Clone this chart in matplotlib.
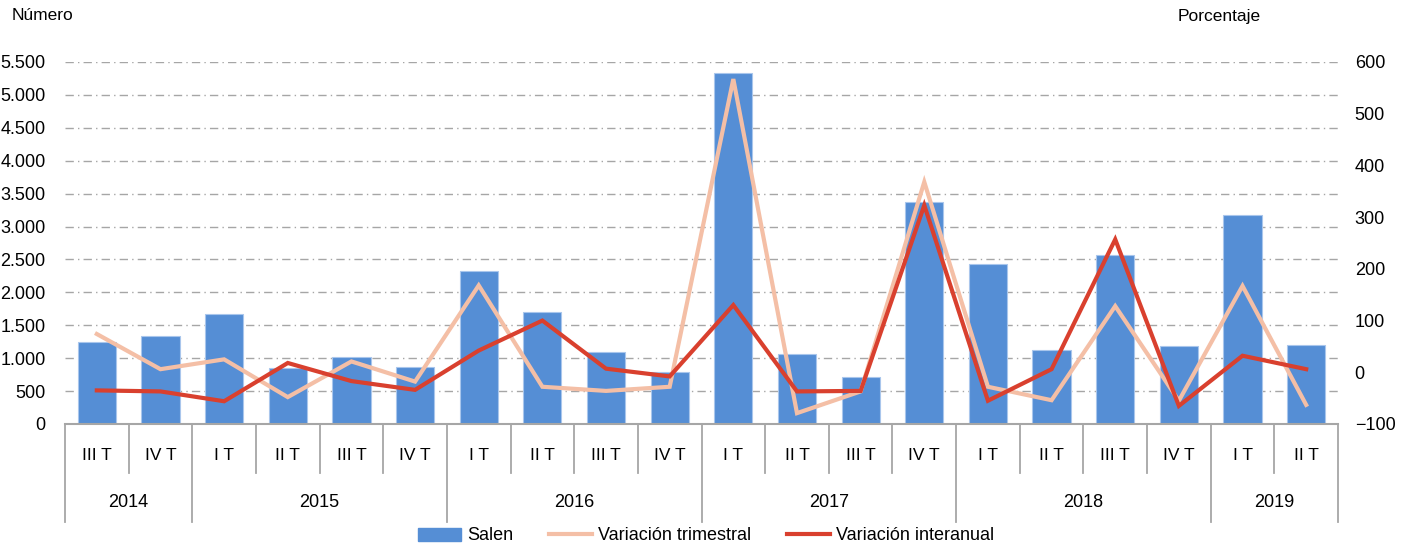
import numpy as np
import matplotlib
matplotlib.use("Agg")
import matplotlib.pyplot as plt
from matplotlib.patches import Patch
from matplotlib.lines import Line2D
from matplotlib.ticker import FuncFormatter

plt.rcParams['font.family'] = ['Liberation Sans', 'DejaVu Sans']

quarters = ["III T", "IV T",
            "I T", "II T", "III T", "IV T",
            "I T", "II T", "III T", "IV T",
            "I T", "II T", "III T", "IV T",
            "I T", "II T", "III T", "IV T",
            "I T", "II T"]
years = ["2014", "2015", "2016", "2017", "2018", "2019"]
quarters_per_year = [2, 4, 4, 4, 4, 2]

salen = [1250, 1330, 1667, 846, 1025, 862,
         2330, 1697, 1100, 792,
         5340, 1060, 715, 3368,
         2428, 1125, 2575, 1187,
         3177, 1202]
var_trimestral = [74, 6, 25, -48, 21, -18,
                  168, -28, -36, -28,
                  567, -79, -37, 368,
                  -28, -54, 128, -55,
                  167, -63]
var_interanual = [-35, -37, -56, 18, -17, -34,
                  42, 100, 7, -8,
                  130, -37, -36, 323,
                  -55, 6, 257, -65,
                  32, 6]

c_bar = "#558ED5"
c_trim = "#F4BFA6"
c_inter = "#D9402E"

fig = plt.figure(figsize=(14.04, 5.5), dpi=100)
ax = fig.add_axes([65 / 1404, 126 / 550, (1338 - 65) / 1404, 362 / 550])
x = np.arange(len(salen))

ax.bar(x, salen, width=0.6, color=c_bar, edgecolor="#A9C6EC", linewidth=0.8, zorder=2)
ax.set_xlim(-0.5, len(salen) - 0.5)
ax.set_ylim(0, 5500)
ax.set_yticks(np.arange(0, 5501, 500))
ax.yaxis.set_major_formatter(FuncFormatter(lambda v, p: f"{int(v):,}".replace(",", ".")))
ax.grid(axis="y", color="#A6A6A6", linestyle=(0, (6, 3, 1, 3)), linewidth=1, zorder=0)
ax.tick_params(axis="y", length=0, labelsize=13, pad=14)
ax.set_xticks([])
for s in ["top", "right", "left"]:
    ax.spines[s].set_visible(False)
ax.spines["bottom"].set_color("#A6A6A6")
ax.spines["bottom"].set_linewidth(1.5)

ax2 = ax.twinx()
ax2.plot(x, var_trimestral, color=c_trim, linewidth=3, solid_joinstyle="miter", zorder=3)
ax2.plot(x, var_interanual, color=c_inter, linewidth=3, solid_joinstyle="miter", zorder=4)
ax2.set_ylim(-100, 600)
ax2.set_yticks(np.arange(-100, 601, 100))
ax2.tick_params(axis="y", length=0, labelsize=13, pad=12)
for s in ["top", "right", "left", "bottom"]:
    ax2.spines[s].set_visible(False)

# category axis: quarter labels, year labels and separators
trans = ax.get_xaxis_transform()
for i, q in enumerate(quarters):
    ax.text(i, -0.086, q, transform=trans, ha="center", va="center", fontsize=12.5)
starts = np.cumsum([0] + quarters_per_year)
for b in range(len(quarters) + 1):
    xb = b - 0.5
    low = -0.27 if b in starts else -0.135
    ax.plot([xb, xb], [0, low], transform=trans, color="#A6A6A6", linewidth=1.3, clip_on=False)
for y, s0, n in zip(years, starts[:-1], quarters_per_year):
    ax.text(s0 + (n - 1) / 2, -0.218, y, transform=trans, ha="center", va="center", fontsize=13)

fig.text(12 / 1404, 1 - 15 / 550, "Número", fontsize=12.5, va="center", ha="left")
fig.text(1178 / 1404, 1 - 17 / 550, "Porcentaje", fontsize=12.5, va="center", ha="left")

handles = [Patch(facecolor=c_bar, edgecolor=c_bar),
           Line2D([0], [0], color=c_trim, linewidth=3),
           Line2D([0], [0], color=c_inter, linewidth=3)]
fig.legend(handles, ["Salen", "Variación trimestral", "Variación interanual"],
           loc="center", bbox_to_anchor=(706 / 1404, 1 - 536 / 550), ncol=3,
           frameon=False, fontsize=13, handlelength=2.4, columnspacing=2.0,
           handletextpad=0.3)

fig.savefig("out.png", dpi=100)
